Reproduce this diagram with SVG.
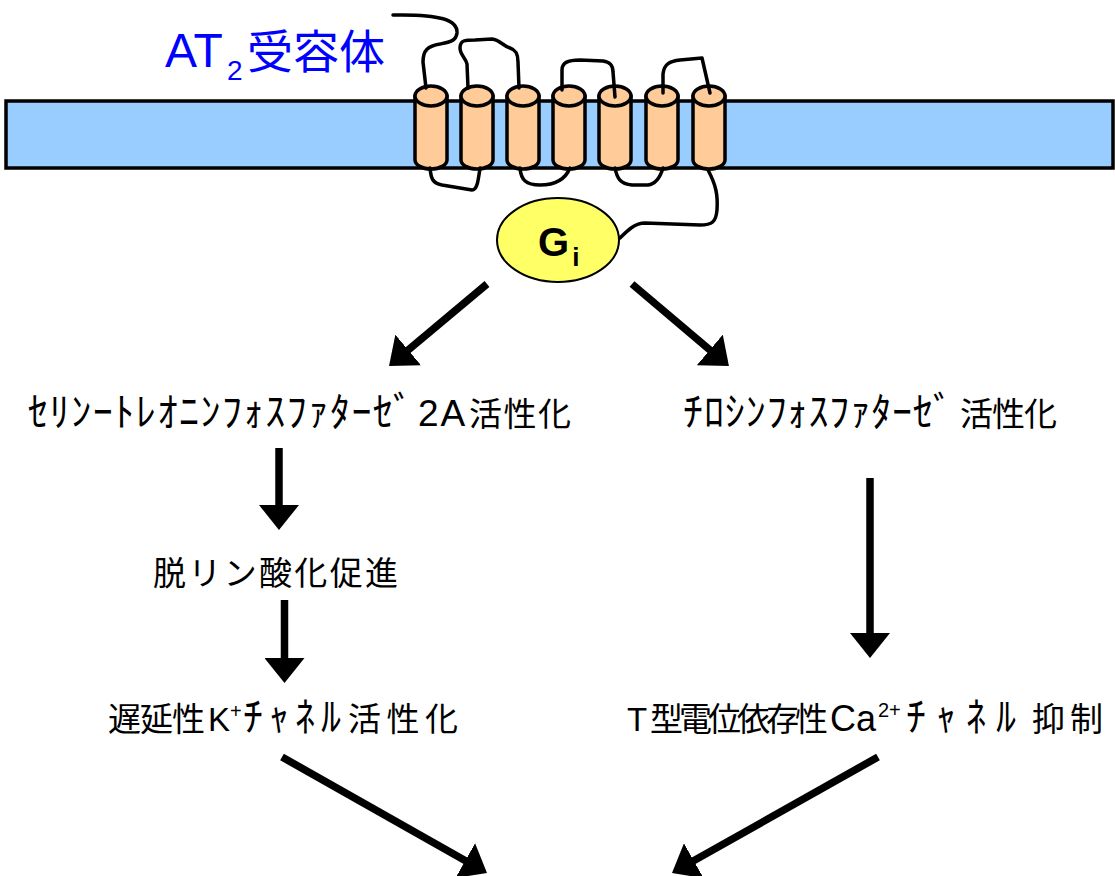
<svg xmlns="http://www.w3.org/2000/svg" width="1115" height="876" viewBox="0 0 1115 876">
  <style>
    .membrane { fill: #99CCFF; stroke: #000; stroke-width: 3.5; }
    .helix { fill: #FFCC99; stroke: #000; stroke-width: 3.5; stroke-linejoin: round; }
    .loop { fill: none; stroke: #000; stroke-width: 3.5; stroke-linecap: round; stroke-linejoin: round; }
    .gprot { fill: #FFFF66; stroke: #000; stroke-width: 2; }
    .label { font-family: "Liberation Sans", "Noto Sans CJK JP", sans-serif; font-size: 33px; fill: #000; }
    .kana { font-size: 40px; }
    .sup { font-size: 20px; }
    .title { font-family: "Liberation Sans", "Noto Sans CJK JP", sans-serif; font-size: 48px; fill: #0000FF; }
    .gtext { font-family: "Liberation Sans", Arial, sans-serif; font-weight: bold; fill: #000; }
    .arrow { fill: none; stroke: #000; stroke-width: 7.5; marker-end: url(#head); }
  </style>
  <defs>
    <marker id="head" viewBox="0 0 25 40" refX="15" refY="20" markerWidth="25" markerHeight="40" markerUnits="userSpaceOnUse" orient="auto">
      <path d="M0,0 L25,20 L0,40 Z" fill="#000"/>
    </marker>
    <g id="cyl">
      <path class="helix" d="M-16,96 V160 A16,9 0 0 0 16,160 V96 Z"/>
      <ellipse class="helix" cx="0" cy="96" rx="16" ry="10"/>
    </g>
  </defs>

  <rect width="1115" height="876" fill="#fff"/>

  <!-- cell membrane -->
  <g id="membrane">
    <rect class="membrane" x="6" y="101" width="1107" height="67"/>
  </g>

  <!-- AT2 receptor: seven transmembrane helices with loops -->
  <g id="receptor">
    <use href="#cyl" x="431"/>
    <use href="#cyl" x="477"/>
    <use href="#cyl" x="523"/>
    <use href="#cyl" x="569"/>
    <use href="#cyl" x="615"/>
    <use href="#cyl" x="662"/>
    <use href="#cyl" x="709"/>
    <!-- extracellular loops and N-terminus -->
    <path class="loop" d="M393,15 C440,14 458,20 457,33 C456,41 450,42 440,44 C428,46 423,50 423,62 L426,88"/>
    <path class="loop" d="M468,88 L467,64 C466,58 460,55 460,48 C460,40 465,40 475,40 L492,39 C500,40 503,46 510,48 C516,50 518,54 518,62 L519,88"/>
    <path class="loop" d="M562,90 L562,70 C562,63 567,60 580,60 L603,61 C610,62 613,65 613,72 L615,97"/>
    <path class="loop" d="M663,93 L663,74 C664,64 670,61 680,60 L702,58 L710,93"/>
    <!-- intracellular loops and C-terminus -->
    <path class="loop" d="M430,168 C431,178 432,183 442,185 L472,190 C477,190 478,182 480,168"/>
    <path class="loop" d="M520,168 C521,180 526,185 540,185 C555,185 565,180 570,168"/>
    <path class="loop" d="M615,168 C617,178 620,184 632,185 L648,185 C656,184 660,178 663,168"/>
    <path class="loop" d="M708,170 C716,185 718,195 717,210 C716,222 712,225 700,225 L645,223 C635,223 628,230 620,238"/>
  </g>

  <g id="at2-label">
    <text class="title" x="165" y="67">AT<tspan font-size="28" x="227" y="80">2</tspan><tspan x="247" y="68" font-size="46">受容体</tspan></text>
  </g>

  <g id="gi">
    <ellipse class="gprot" cx="558" cy="240" rx="61" ry="42"/>
    <text class="gtext" x="538" y="256" font-size="40">G<tspan font-size="26" dx="3" dy="10">i</tspan></text>
  </g>

  <g id="pp2a">
    <text class="label" y="426"><tspan class="kana" x="28" textLength="385" lengthAdjust="spacing">ｾﾘﾝｰﾄﾚｵﾆﾝﾌｫｽﾌｧﾀｰｾﾞ</tspan><tspan x="418" font-size="37" letter-spacing="2">2A</tspan><tspan x="469" textLength="102" lengthAdjust="spacing">活性化</tspan></text>
  </g>
  <g id="ptp">
    <text class="label" y="426"><tspan class="kana" x="683" textLength="270" lengthAdjust="spacing">ﾁﾛｼﾝﾌｫｽﾌｧﾀｰｾﾞ</tspan><tspan x="960" textLength="97" lengthAdjust="spacing">活性化</tspan></text>
  </g>
  <g id="dephos">
    <text class="label" x="153" y="585" textLength="245" lengthAdjust="spacing">脱リン酸化促進</text>
  </g>
  <g id="kchannel">
    <text class="label" y="731"><tspan x="108" textLength="97" lengthAdjust="spacing">遅延性</tspan><tspan x="208">K</tspan><tspan class="sup" x="230" y="718">+</tspan><tspan class="kana" x="243" y="731" textLength="98" lengthAdjust="spacing">ﾁｬﾈﾙ</tspan><tspan x="348" textLength="110" lengthAdjust="spacing">活性化</tspan></text>
  </g>
  <g id="cachannel">
    <text class="label" y="731"><tspan x="627">T</tspan><tspan x="650" textLength="178" lengthAdjust="spacing">型電位依存性</tspan><tspan x="830" font-size="36">Ca</tspan><tspan class="sup" x="878" y="717" font-size="21">2+</tspan><tspan class="kana" x="906" y="731" font-size="44" textLength="110" lengthAdjust="spacing">ﾁｬﾈﾙ</tspan><tspan x="1032" letter-spacing="5">抑制</tspan></text>
  </g>

  <!-- connectors -->
  <g id="connectors">
    <path class="arrow" d="M487,284 L396.7,359.6"/>
    <path class="arrow" d="M632,284 L721.3,359.6"/>
    <path class="arrow" stroke-width="8" d="M279,448 V520"/>
    <path class="arrow" stroke-width="8" d="M284.5,600 V673"/>
    <path class="arrow" stroke-width="8" d="M870,478 V648"/>
    <path class="arrow" d="M282,757 L478.3,868"/>
    <path class="arrow" d="M878,757 L680.7,868.1"/>
  </g>
</svg>
